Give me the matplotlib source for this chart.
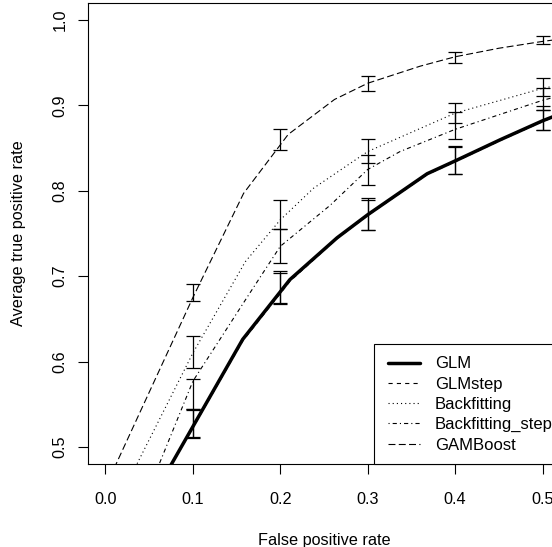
import matplotlib
matplotlib.use("Agg")
import matplotlib.pyplot as plt
from matplotlib.patches import Rectangle

plt.rcParams["font.family"] = ["Liberation Sans", "DejaVu Sans"]
plt.rcParams["lines.scale_dashes"] = False

# Averaged ROC curves (false positive rate -> true positive rate)
glm_fpr = [0.07, 0.157, 0.211, 0.265, 0.300, 0.368, 0.400, 0.452, 0.500, 0.530]
glm_tpr = [0.470, 0.626, 0.696, 0.745, 0.772, 0.820, 0.835, 0.860, 0.882, 0.894]

glmstep_fpr = [0.07, 0.157, 0.211, 0.265, 0.300, 0.368, 0.400, 0.452, 0.500, 0.530]
glmstep_tpr = [0.469, 0.624, 0.694, 0.744, 0.771, 0.819, 0.834, 0.859, 0.881, 0.893]

backfit_fpr = [0.020, 0.036, 0.100, 0.160, 0.200, 0.238, 0.300, 0.400, 0.500, 0.530]
backfit_tpr = [0.445, 0.480, 0.610, 0.717, 0.766, 0.803, 0.846, 0.891, 0.920, 0.926]

backstep_fpr = [0.050, 0.0615, 0.100, 0.165, 0.200, 0.257, 0.300, 0.337, 0.400, 0.500, 0.530]
backstep_tpr = [0.452, 0.480, 0.577, 0.680, 0.735, 0.783, 0.825, 0.846, 0.872, 0.906, 0.914]

gamboost_fpr = [0.000, 0.100, 0.158, 0.209, 0.262, 0.300, 0.360, 0.400, 0.450, 0.500, 0.530]
gamboost_tpr = [0.453, 0.675, 0.797, 0.866, 0.907, 0.926, 0.946, 0.957, 0.967, 0.975, 0.979]

# Error bars at fixed false positive rates
bar_fpr = [0.1, 0.2, 0.3, 0.4, 0.5]
glm_lo = [0.511, 0.669, 0.754, 0.820, 0.871]
glm_hi = [0.544, 0.706, 0.791, 0.853, 0.899]
glmstep_lo = [0.512, 0.667, 0.754, 0.820, 0.871]
glmstep_hi = [0.543, 0.704, 0.789, 0.851, 0.895]
backfit_lo = [0.592, 0.755, 0.832, 0.879, 0.911]
backfit_hi = [0.630, 0.789, 0.861, 0.903, 0.932]
backstep_lo = [0.544, 0.715, 0.807, 0.861, 0.895]
backstep_hi = [0.580, 0.755, 0.842, 0.892, 0.921]
gamboost_lo = [0.671, 0.848, 0.917, 0.950, 0.972]
gamboost_hi = [0.691, 0.872, 0.935, 0.963, 0.981]

x_ticks = [0.0, 0.1, 0.2, 0.3, 0.4, 0.5]
y_ticks = [0.5, 0.6, 0.7, 0.8, 0.9, 1.0]

FS = 11.7
fig = plt.figure(figsize=(5.52, 5.47), dpi=100)
ax = fig.add_axes([88 / 552, 83 / 547, 472 / 552, 461 / 547])

thin = 0.8
styles = {
    "GLM": dict(color="black", lw=2.5, linestyle="-", solid_capstyle="round",
                solid_joinstyle="round"),
    "GLMstep": dict(color="black", lw=thin, dashes=(3.0, 3.0)),
    "Backfitting": dict(color="black", lw=thin, dashes=(0.8, 2.2)),
    "Backfitting_step": dict(color="black", lw=thin, dashes=(0.8, 2.2, 3.0, 2.2)),
    "GAMBoost": dict(color="black", lw=thin, dashes=(5.0, 2.4)),
}

series = [
    ("GLM", glm_fpr, glm_tpr, glm_lo, glm_hi),
    ("GLMstep", glmstep_fpr, glmstep_tpr, glmstep_lo, glmstep_hi),
    ("Backfitting", backfit_fpr, backfit_tpr, backfit_lo, backfit_hi),
    ("Backfitting_step", backstep_fpr, backstep_tpr, backstep_lo, backstep_hi),
    ("GAMBoost", gamboost_fpr, gamboost_tpr, gamboost_lo, gamboost_hi),
]

handles = []
for name, xs, ys, lo, hi in series:
    (h,) = ax.plot(xs, ys, label=name, **styles[name])
    handles.append(h)
    mid = [(a + b) / 2 for a, b in zip(lo, hi)]
    err = [[m - a for m, a in zip(mid, lo)], [b - m for m, b in zip(mid, hi)]]
    ax.errorbar(bar_fpr, mid, yerr=err, fmt="none", ecolor="black",
                elinewidth=0.9, capsize=4.8, capthick=0.9)

ax.set_xlim(-0.02, 0.52)
ax.set_ylim(0.48, 1.02)
ax.set_xticks(x_ticks)
ax.set_xticklabels([f"{v:.1f}" for v in x_ticks])
ax.set_yticks(y_ticks)
ax.set_yticklabels([f"{v:.1f}" for v in y_ticks])

for s in ax.spines.values():
    s.set_linewidth(0.8)
    s.set_color("black")

ax.tick_params(axis="both", direction="out", length=7.2, width=0.8,
               labelsize=FS, color="black")
ax.tick_params(axis="x", pad=13)
ax.tick_params(axis="y", pad=7.5)
for lab in ax.get_yticklabels():
    lab.set_rotation(90)
    lab.set_va("center")
    lab.set_ha("right")

ax.set_xlabel("False positive rate", fontsize=FS)
ax.set_ylabel("Average true positive rate", fontsize=FS)
ax.xaxis.set_label_coords(0.5, -0.166)
ax.xaxis.label.set_va("center")
ax.yaxis.set_label_coords(-0.148, 0.5)
ax.yaxis.label.set_va("center")
ax.yaxis.label.set_rotation_mode("anchor")

# Legend box anchored to the bottom-right corner of the plot region
frame = Rectangle((0.606, 0.0), 0.394, 0.2603, transform=ax.transAxes,
                  facecolor="white", edgecolor="black", linewidth=0.8,
                  zorder=4, clip_on=False)
ax.add_patch(frame)
leg = ax.legend(handles=handles, loc="upper left", bbox_to_anchor=(0.6356, 0.2332),
                borderaxespad=0.0, borderpad=0.0, fontsize=12.0, frameon=False,
                handlelength=1.92, handletextpad=0.88, labelspacing=0.315)
leg.set_zorder(5)

fig.savefig("out.png", dpi=100)
